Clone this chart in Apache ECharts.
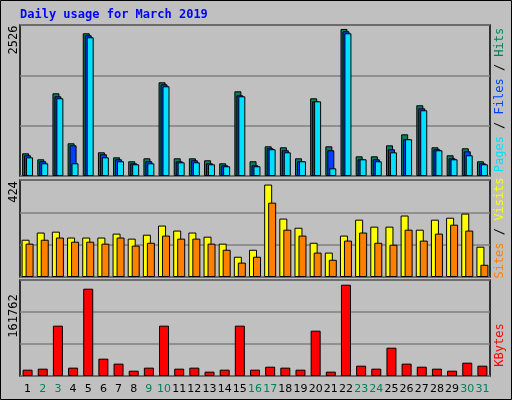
<!DOCTYPE html><html><head><meta charset="utf-8">
<script src="https://cdn.jsdelivr.net/npm/echarts@6/dist/echarts.min.js"></script>
<style>html,body{margin:0;padding:0;background:#c0c0c0}#c{width:512px;height:400px}</style></head><body><div id="c"></div>
<script>
const days=[1,2,3,4,5,6,7,8,9,10,11,12,13,14,15,16,17,18,19,20,21,22,23,24,25,26,27,28,29,30,31];
const weekend=[2,3,9,10,16,17,23,24,30,31];
const hits=[390,287,1421,562,2452,407,321,253,304,1610,304,304,270,218,1455,253,510,493,304,1335,510,2526,338,338,527,716,1215,493,356,476,253];
const files=[356,253,1369,527,2417,373,287,218,253,1575,253,270,218,184,1386,184,476,442,253,1283,442,2486,287,287,459,631,1163,459,304,424,218];
const pages=[321,218,1335,218,2383,321,253,201,218,1541,235,235,201,167,1369,167,459,407,253,1283,132,2452,287,253,407,631,1129,442,287,356,201];
const visits=[171,204,208,181,181,181,199,176,194,236,213,204,185,153,93,125,424,268,226,157,112,190,263,231,231,282,217,263,272,291,139];
const sites=[153,171,181,162,162,153,181,144,157,190,176,176,153,125,66,93,341,217,190,112,79,167,204,157,148,217,167,199,240,213,56];
const kbytes=[11200,13000,89200,14800,154700,30700,21900,9400,14800,89200,13000,14800,7700,11200,89200,11200,16500,14800,11200,80300,7700,161762,18300,13000,50200,21900,16500,13000,9400,23600,18300];
const maxLabels=['2526','424','161762'];
const F='"DejaVu Sans Mono", monospace';
const grids=[{left:20,right:22,top:25,height:151},{left:20,right:22,top:180,height:97},{left:20,right:22,top:280,height:96}];
const maxes=[2594,445,170100];
function xa(i){return {type:'category',gridIndex:i,data:days,axisLine:{show:false},axisTick:{show:false},
 axisLabel:{show:i===2,interval:0,fontFamily:'DejaVu Sans',fontSize:11,margin:8,
 formatter:v=>weekend.includes(+v)?'{w|'+v+'}':'{n|'+v+'}',rich:{w:{color:'#00805c',fontSize:11},n:{color:'#000',fontSize:11}}}};}
function ya(i){return {type:'value',gridIndex:i,min:0,max:maxes[i],interval:maxes[i]/3,axisLabel:{show:false},axisLine:{show:false},axisTick:{show:false},splitLine:{lineStyle:{color:'#808080',width:1.5}}};}
function bar(name,d,ax,color,w,gap){return {name,type:'bar',xAxisIndex:ax,yAxisIndex:ax,data:d,barWidth:w,barGap:gap,
 itemStyle:{color,borderColor:'#000',borderWidth:1},animation:false,silent:true};}
const ch=echarts.init(document.getElementById('c'));
const vt=(x,y,rich,text)=>({type:'text',x,y,rotation:Math.PI/2,style:{text,rich,font:'12px '+F,align:'center',verticalAlign:'middle'}});
ch.setOption({backgroundColor:'#c0c0c0',
 grid:grids.map(g=>Object.assign({show:true,backgroundColor:'#c0c0c0',borderColor:'#000',borderWidth:1.5},g)),
 xAxis:[xa(0),xa(1),xa(2)],yAxis:[ya(0),ya(1),ya(2)],
 series:[bar('Hits',hits,0,'#00805c',7,'-72%'),bar('Files',files,0,'#0040ff',7,'-72%'),bar('Pages',pages,0,'#00e0ff',7,'-72%'),
  bar('Visits',visits,1,'#ffff00',8,'-50%'),bar('Sites',sites,1,'#ff8000',8,'-50%'),
  bar('KBytes',kbytes,2,'#ff0000',10,'0%')],
 graphic:[
  {type:'rect',shape:{x:0.5,y:0.5,width:511,height:399},style:{fill:'none',stroke:'#000',lineWidth:1}},
  {type:'text',x:20,y:9,style:{text:'Daily usage for March 2019',font:'bold 12px '+F,fill:'#0000ff'}},
  vt(14,40,{},maxLabels[0]),vt(14,192,{},maxLabels[1]),vt(14,316,{},maxLabels[2]),
  {type:'text',x:500,y:100,rotation:Math.PI/2,style:{text:'{p|Pages}{s| / }{f|Files}{s| / }{h|Hits}',align:'center',verticalAlign:'middle',
   rich:{p:{fill:'#00e0ff',font:'12px '+F},f:{fill:'#0040ff',font:'12px '+F},h:{fill:'#00805c',font:'12px '+F},s:{fill:'#000',font:'12px '+F}}}},
  {type:'text',x:500,y:228,rotation:Math.PI/2,style:{text:'{a|Sites}{s| / }{b|Visits}',align:'center',verticalAlign:'middle',
   rich:{a:{fill:'#ff8000',font:'12px '+F},b:{fill:'#ffff00',font:'12px '+F},s:{fill:'#000',font:'12px '+F}}}},
  {type:'text',x:500,y:345,rotation:Math.PI/2,style:{text:'KBytes',fill:'#ff0000',font:'12px '+F,align:'center',verticalAlign:'middle'}}
 ]});
</script></body></html>
